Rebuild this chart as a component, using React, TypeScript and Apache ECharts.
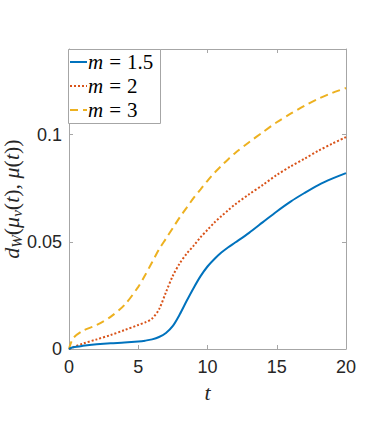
import React, { useEffect, useRef } from "react";
import * as echarts from "echarts";

const tValues = [0, 0.3, 1, 2, 3, 4, 5, 5.5, 6, 6.5, 7, 7.5, 8, 8.5, 9, 9.5, 10, 10.5, 11, 11.5, 12, 13, 14, 15, 16, 17, 18, 19, 20];
const m15Values = [0, 0.0008, 0.0015, 0.0022, 0.0027, 0.003, 0.0035, 0.0039, 0.0045, 0.0056, 0.0075, 0.0108, 0.0162, 0.0225, 0.0285, 0.034, 0.0385, 0.042, 0.045, 0.0475, 0.0497, 0.0542, 0.0592, 0.0642, 0.0688, 0.0728, 0.0765, 0.0795, 0.0821];
const m2Values = [0, 0.0008, 0.0025, 0.0045, 0.0065, 0.0088, 0.0112, 0.0124, 0.0142, 0.0185, 0.0265, 0.0342, 0.04, 0.0445, 0.0482, 0.0522, 0.0556, 0.059, 0.062, 0.0648, 0.0675, 0.0722, 0.0766, 0.0812, 0.0852, 0.0888, 0.0925, 0.0958, 0.0989];
const m3Values = [0, 0.005, 0.0085, 0.0112, 0.015, 0.0205, 0.029, 0.0345, 0.0405, 0.0465, 0.0515, 0.0565, 0.0615, 0.066, 0.0705, 0.0745, 0.0785, 0.0822, 0.0855, 0.0886, 0.0915, 0.0965, 0.1012, 0.1058, 0.1098, 0.1135, 0.1168, 0.1195, 0.1218];
const mLabels = ["1.5", "2", "3"];
const xTicks = [0, 5, 10, 15, 20];
const yTicks = [0, 0.05, 0.1];

const TEXT = "#262626";
const AXIS = "#a6a6a6";
const SERIF = "'Liberation Serif', 'Times New Roman', serif";
const SANS = "'Liberation Sans', Arial, Helvetica, sans-serif";
const COLORS = ["#0072BD", "#D95319", "#EDB120"];
const DASHES: any[] = [null, [2, 2], [8, 5]];

export default function App() {
  const ref = useRef<HTMLDivElement>(null);
  useEffect(() => {
    if (!ref.current) return;
    const chart = echarts.init(ref.current, null, { renderer: "svg" });
    const pair = (vals: number[]) => tValues.map((t, i) => [t, vals[i]]);
    const allVals = [m15Values, m2Values, m3Values];
    const yName =
      "{i|d}{s|W}{r|(}{i|μ}{s|ν}{r|(}{i|t}{r|),}{r| }{i|μ}{r|(}{i|t}{r|))}";

    const legendX = 68;
    const legendY = 49;
    const rowH = 24;
    const legendEls: any[] = [
      {
        type: "rect",
        shape: { x: legendX + 0.5, y: legendY + 0.5, width: 92, height: 74 },
        style: { fill: "#fff", stroke: AXIS, lineWidth: 1 },
        z: 100,
      },
    ];
    mLabels.forEach((lab, k) => {
      const cy = legendY + 13 + k * rowH;
      legendEls.push({
        type: "line",
        shape: { x1: legendX + 2, y1: cy, x2: legendX + 19, y2: cy },
        style: { stroke: COLORS[k], lineWidth: 2, lineDash: DASHES[k] },
        z: 101,
      });
      legendEls.push({
        type: "text",
        x: legendX + 20,
        y: cy,
        style: {
          text: `{i|m}{e|=}{n|${lab}}`,
          verticalAlign: "middle",
          align: "left",
          rich: {
            i: { fontFamily: SERIF, fontStyle: "italic", fontSize: 21, fill: "#000" },
            e: { fontFamily: SERIF, fontSize: 21, fill: "#000", padding: [0, 6, 0, 6] },
            n: { fontFamily: SERIF, fontSize: 21, fill: "#000" },
          },
        },
        z: 101,
      });
    });

    const axisCommon = {
      axisLine: { show: true, onZero: false, lineStyle: { color: AXIS, width: 1 } },
      splitLine: { show: false },
    };

    chart.setOption({
      animation: false,
      backgroundColor: "#ffffff",
      grid: { left: 69, top: 49, width: 277, height: 300, containLabel: false, outerBoundsMode: "none" },
      graphic: legendEls,
      xAxis: [
        {
          type: "value",
          min: 0,
          max: 20,
          interval: 5,
          position: "bottom",
          name: "t",
          nameLocation: "middle",
          nameGap: 32,
          nameMoveOverlap: false,
          nameTextStyle: { fontFamily: SERIF, fontStyle: "italic", fontSize: 22, color: TEXT },
          ...axisCommon,
          axisTick: { show: true, inside: true, length: 4, lineStyle: { color: AXIS } },
          axisLabel: { color: TEXT, fontFamily: SANS, fontSize: 18, margin: 9, customValues: xTicks },
        },
        {
          type: "value",
          min: 0,
          max: 20,
          interval: 5,
          position: "top",
          ...axisCommon,
          axisTick: { show: true, inside: true, length: 4, lineStyle: { color: AXIS } },
          axisLabel: { show: false },
        },
      ],
      yAxis: [
        {
          type: "value",
          min: 0,
          max: 0.14,
          position: "left",
          name: yName,
          nameLocation: "middle",
          nameGap: 45,
          nameMoveOverlap: false,
          nameRotate: 90,
          nameTextStyle: {
            color: TEXT,
            fontFamily: SERIF,
            fontSize: 22,
            rich: {
              i: { fontFamily: SERIF, fontStyle: "italic", fontSize: 22, color: TEXT },
              r: { fontFamily: SERIF, fontSize: 22, color: TEXT },
              s: { fontFamily: SERIF, fontStyle: "italic", fontSize: 15, color: TEXT, padding: [11, 0, 0, 0] },
            },
          },
          ...axisCommon,
          axisTick: { show: true, inside: true, length: 4, lineStyle: { color: AXIS }, customValues: yTicks },
          axisLabel: { color: TEXT, fontFamily: SANS, fontSize: 18, margin: 7, customValues: yTicks },
        },
        {
          type: "value",
          min: 0,
          max: 0.14,
          position: "right",
          ...axisCommon,
          axisTick: { show: true, inside: true, length: 4, lineStyle: { color: AXIS }, customValues: yTicks },
          axisLabel: { show: false },
        },
      ],
      series: allVals.map((vals, k) => ({
        type: "line",
        name: `m = ${mLabels[k]}`,
        xAxisIndex: 0,
        yAxisIndex: 0,
        data: pair(vals),
        showSymbol: false,
        symbol: "none",
        smooth: 0.3,
        lineStyle: { color: COLORS[k], width: 2, type: DASHES[k] || "solid" },
        itemStyle: { color: COLORS[k] },
        z: 3 - k,
      })),
    });
    return () => chart.dispose();
  }, []);
  return (
    <div
      ref={ref}
      style={{ position: "absolute", left: 0, top: 0, width: 382, height: 425, background: "#fff" }}
    />
  );
}
